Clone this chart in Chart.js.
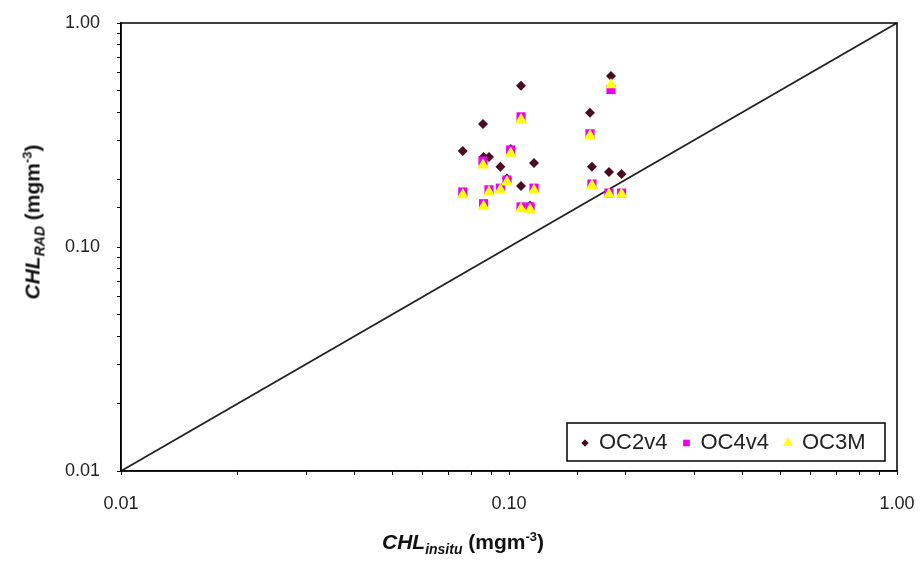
<!DOCTYPE html>
<html>
<head>
<meta charset="utf-8">
<script src="https://cdn.jsdelivr.net/npm/chart.js@4.4.1/dist/chart.umd.min.js"></script>
<style>
html,body{margin:0;padding:0;background:#fff;}
#wrap{position:relative;width:920px;height:562px;overflow:hidden;}
#c{position:absolute;left:0;top:0;}
.ttl{position:absolute;font-family:"Liberation Sans",Arial,sans-serif;font-weight:bold;font-size:21px;color:#111;white-space:nowrap;line-height:1;}
.ttl .it{font-style:italic;}
.ttl .sub{font-size:14px;font-style:italic;position:relative;top:5px;}
.ttl .sup{font-size:13px;position:relative;top:-8px;}
#xt{left:463px;top:541px;transform:translate(-50%,-50%);}
#yt{left:32px;top:222px;transform:translate(-50%,-50%) rotate(-90deg);}
</style>
</head>
<body>
<div id="wrap">
<canvas id="c" width="920" height="562"></canvas>
<div id="xt" class="ttl"><span class="it">CHL</span><span class="sub">insitu</span> (mgm<span class="sup">-3</span>)</div>
<div id="yt" class="ttl"><span class="it">CHL</span><span class="sub">RAD</span> (mgm<span class="sup">-3</span>)</div>
</div>
<script>
// ---- data ----
const inSitu = [0.0760,0.0857,0.0860,0.0888,0.0950,0.0988,0.1010,0.1074,0.1074,0.1133,0.1160,0.1617,0.1636,0.1810,0.1832,0.1950];
const oc2v4  = [0.268,0.354,0.252,0.252,0.228,0.202,0.274,0.524,0.187,0.153,0.237,0.397,0.228,0.216,0.580,0.212];
const oc4v4  = [0.176,0.242,0.156,0.180,0.183,0.199,0.271,0.381,0.151,0.151,0.183,0.320,0.191,0.174,0.505,0.174];
const oc3m   = [0.171,0.232,0.152,0.176,0.180,0.195,0.262,0.370,0.148,0.147,0.179,0.314,0.188,0.172,0.530,0.172];
const oneToOne = [0.01, 1.00];
const tickLabels = [0.01, 0.10, 1.00];
const seriesNames = ['OC2v4', 'OC4v4', 'OC3M'];

const FONT = '"Liberation Sans", Arial, sans-serif';
const pts = ys => inSitu.map((x, i) => ({x: x, y: ys[i]}));

const isLabelTick = v => tickLabels.some(t => Math.abs(Math.log10(v) - Math.log10(t)) < 1e-6);
const fmt = v => isLabelTick(v) ? Number(v).toFixed(2) : '';

const framePlugin = {
  id: 'frame',
  afterDatasetsDraw(chart) {
    const a = chart.chartArea, ctx = chart.ctx;
    ctx.save();
    ctx.strokeStyle = '#000';
    ctx.lineWidth = 1.5;
    ctx.strokeRect(a.left, a.top, a.right - a.left, a.bottom - a.top);
    ctx.restore();
  }
};

const legendPlugin = {
  id: 'boxLegend',
  afterDraw(chart) {
    const a = chart.chartArea, ctx = chart.ctx;
    const w = 318, h = 38;
    const L = a.right - 12 - w, T = a.bottom - 10 - h;
    ctx.save();
    ctx.fillStyle = '#fff';
    ctx.fillRect(L, T, w, h);
    ctx.strokeStyle = '#000';
    ctx.lineWidth = 1.5;
    ctx.strokeRect(L, T, w, h);
    ctx.font = '22px ' + FONT;
    ctx.textBaseline = 'middle';
    const cy = T + h / 2;
    let x = L + 18;
    const styles = [
      {ds: 0, radius: 3.5},
      {ds: 1, radius: 4.5},
      {ds: 2, radius: 5.5}
    ];
    styles.forEach(s => {
      const d = chart.data.datasets[s.ds];
      ctx.fillStyle = d.backgroundColor;
      ctx.strokeStyle = d.backgroundColor;
      Chart.helpers.drawPoint(ctx, {pointStyle: d.pointStyle, radius: s.radius, rotation: 0, borderWidth: 0}, x, cy + 1);
      ctx.fill();
      ctx.fillStyle = '#222';
      ctx.fillText(d.label, x + 14, cy + 1);
      x = x + 14 + ctx.measureText(d.label).width + 19;
    });
    ctx.restore();
  }
};

const axisCommon = {
  type: 'logarithmic',
  min: 0.01,
  max: 1,
  border: {display: true, color: '#000', width: 1.5},
  grid: {drawOnChartArea: false, drawTicks: true, tickLength: 4, color: '#000', lineWidth: 1},
  ticks: {autoSkip: false, maxRotation: 0, color: '#222', font: {family: FONT, size: 18}, callback: v => fmt(v)}
};

new Chart(document.getElementById('c'), {
  type: 'scatter',
  data: {
    datasets: [
      {label: seriesNames[0], data: pts(oc2v4), pointStyle: 'rectRot', pointRadius: 5, pointBorderWidth: 0,
       backgroundColor: '#4a0d1e', borderColor: '#4a0d1e', order: 3},
      {label: seriesNames[1], data: pts(oc4v4), pointStyle: 'rect', pointRadius: 6.5, pointBorderWidth: 0,
       backgroundColor: '#f000f0', borderColor: '#f000f0', order: 2},
      {label: seriesNames[2], data: pts(oc3m), pointStyle: 'triangle', pointRadius: 6.8, pointBorderWidth: 0,
       backgroundColor: '#ffff10', borderColor: '#ffff10', order: 1},
      {label: '1:1', data: oneToOne.map(v => ({x: v, y: v})), showLine: true, pointRadius: 0,
       borderColor: '#222', borderWidth: 1.8, order: 4}
    ]
  },
  options: {
    responsive: false,
    animation: false,
    devicePixelRatio: 1,
    layout: {padding: {top: 23, right: 23, left: 0, bottom: 0}},
    plugins: {legend: {display: false}, tooltip: {enabled: false}},
    scales: {
      x: Object.assign({}, axisCommon, {
        position: 'bottom',
        ticks: Object.assign({}, axisCommon.ticks, {padding: 18}),
        afterFit: s => { s.height = 91; s.paddingLeft = 0; s.paddingRight = 0; }
      }),
      y: Object.assign({}, axisCommon, {
        position: 'left',
        ticks: Object.assign({}, axisCommon.ticks, {padding: 17}),
        afterFit: s => { s.width = 121; s.paddingTop = 0; s.paddingBottom = 0; }
      })
    }
  },
  plugins: [framePlugin, legendPlugin]
});
</script>
</body>
</html>
